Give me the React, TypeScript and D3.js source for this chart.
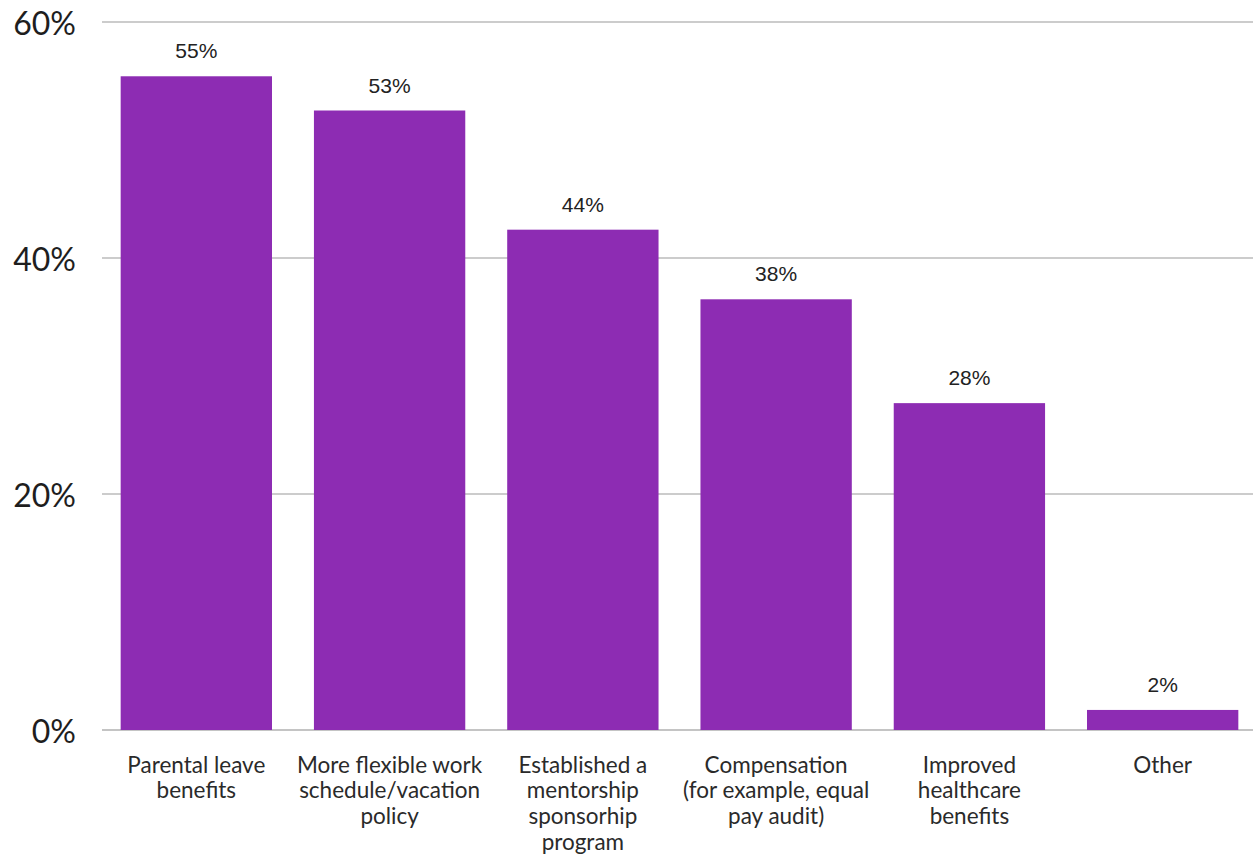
import React from "react";
import * as d3 from "d3";

const categories: string[] = [
  "Parental leave benefits",
  "More flexible work schedule/vacation policy",
  "Established a mentorship sponsorhip program",
  "Compensation (for example, equal pay audit)",
  "Improved healthcare benefits",
  "Other",
];
const categoryLines: string[][] = [
  ["Parental leave", "benefits"],
  ["More flexible work", "schedule/vacation", "policy"],
  ["Established a", "mentorship", "sponsorhip", "program"],
  ["Compensation", "(for example, equal", "pay audit)"],
  ["Improved", "healthcare", "benefits"],
  ["Other"],
];
// bar heights as drawn in the reference
const values: number[] = [55.4, 52.5, 42.4, 36.5, 27.7, 1.7];
// value labels as printed in the reference
const valueLabels: string[] = ["55%", "53%", "44%", "38%", "28%", "2%"];
const yTicks: number[] = [0, 20, 40, 60];

const W = 1253;
const H = 858;

export default function App() {
  const x = d3
    .scaleBand<string>()
    .domain(categories)
    .range([99.7, 1259.3])
    .paddingInner(0.217)
    .paddingOuter(0.1085);
  const y = d3.scaleLinear().domain([0, 60]).range([730, 22]);
  const barColor = "#8d2cb3";

  return (
    <svg
      width={W}
      height={H}
      style={{ position: "absolute", left: 0, top: 0, background: "#fff" }}
    >
      {yTicks.map((t) => (
        <g key={t}>
          <line
            x1={102}
            x2={W}
            y1={y(t)}
            y2={y(t)}
            stroke={t === 0 ? "#c4c4c4" : "#cccccc"}
            strokeWidth={2}
          />
          <text
            x={76}
            y={y(t)}
            textAnchor="end"
            dominantBaseline="central"
            fontFamily="Lato, 'Open Sans', sans-serif"
            fontSize={32}
            fill="#1e1e1e"
          >
            {t}%
          </text>
        </g>
      ))}
      {categories.map((c, i) => (
        <rect
          key={c}
          x={x(c)}
          y={y(values[i])}
          width={x.bandwidth()}
          height={y(0) - y(values[i])}
          fill={barColor}
        />
      ))}
      {categories.map((c, i) => (
        <text
          key={"v" + c}
          x={(x(c) as number) + x.bandwidth() / 2}
          y={y(values[i]) - 18}
          textAnchor="middle"
          fontFamily="'Liberation Sans', Arial, sans-serif"
          fontSize={21}
          fill="#222"
        >
          {valueLabels[i]}
        </text>
      ))}
      {categories.map((c, i) => (
        <text
          key={"c" + c}
          textAnchor="middle"
          fontFamily="Lato, 'Open Sans', sans-serif"
          fontSize={22.5}
          fill="#2a2a2a"
        >
          {categoryLines[i].map((ln, j) => (
            <tspan
              key={j}
              x={(x(c) as number) + x.bandwidth() / 2}
              y={772.7 + j * 25.7}
            >
              {ln}
            </tspan>
          ))}
        </text>
      ))}
    </svg>
  );
}
